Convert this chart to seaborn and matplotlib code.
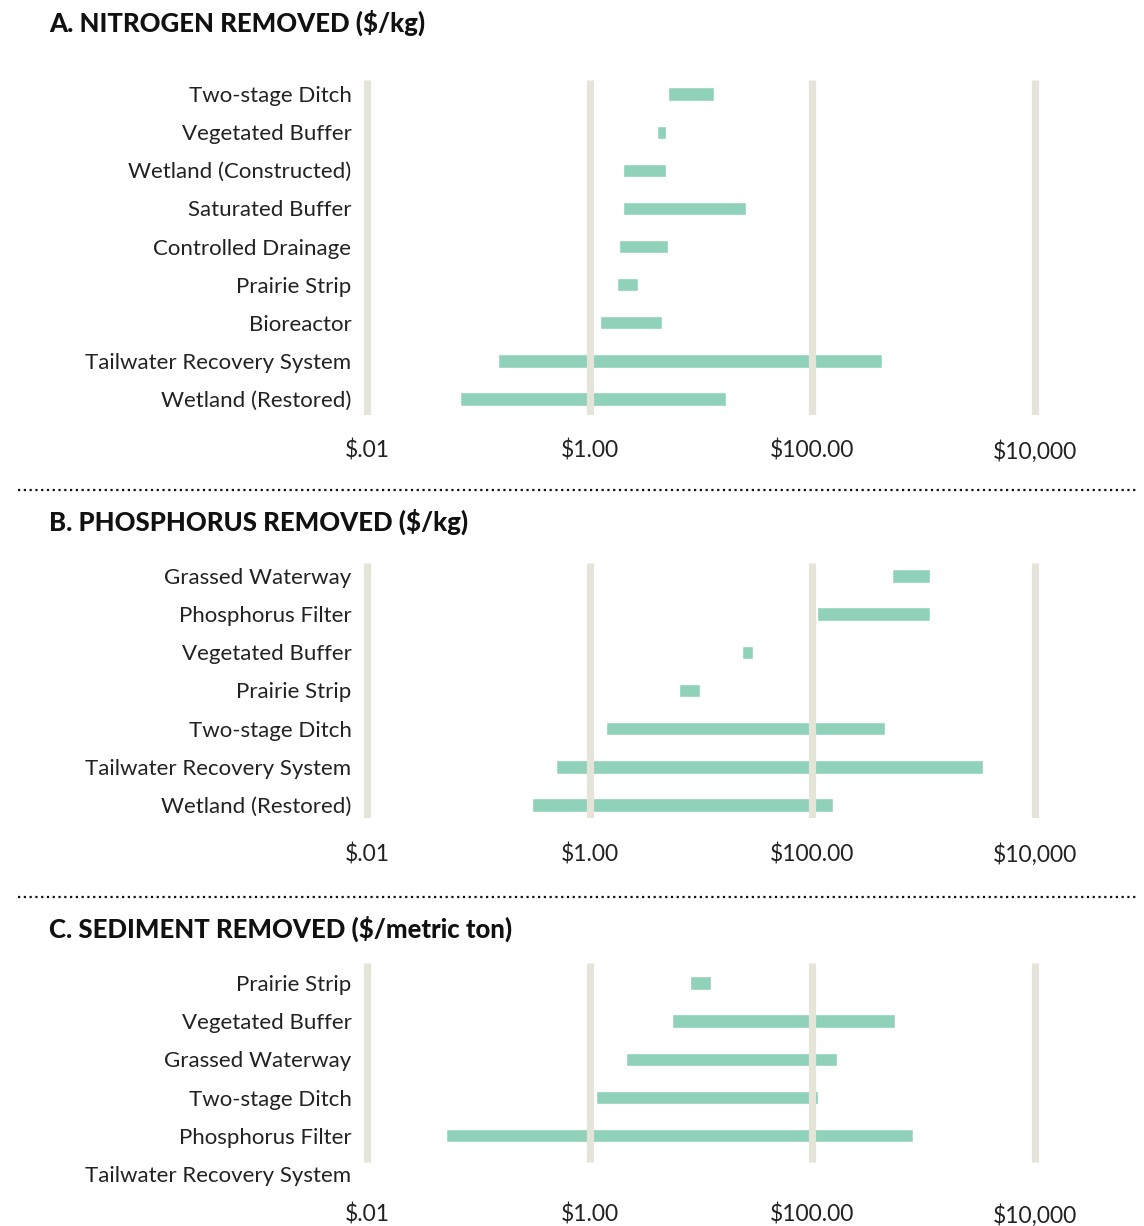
import numpy as np
import matplotlib
matplotlib.use("Agg")
import matplotlib.pyplot as plt
import seaborn as sns

# A. nitrogen ($/kg)
n_labels = ["Two-stage Ditch", "Vegetated Buffer", "Wetland (Constructed)", "Saturated Buffer",
            "Controlled Drainage", "Prairie Strip", "Bioreactor", "Tailwater Recovery System",
            "Wetland (Restored)"]
n_low = [5.1, 4.0, 2.0, 2.0, 1.83, 1.76, 1.23, 0.15, 0.068]
n_high = [13.2, 4.8, 4.8, 25.3, 5.1, 2.7, 4.5, 420, 16.7]

# B. phosphorus ($/kg)
p_labels = ["Grassed Waterway", "Phosphorus Filter", "Vegetated Buffer", "Prairie Strip",
            "Two-stage Ditch", "Tailwater Recovery System", "Wetland (Restored)"]
p_low = [520, 109, 23.3, 6.3, 1.4, 0.50, 0.305]
p_high = [1145, 1145, 29.2, 9.7, 450, 3380, 152]

# C. sediment ($/metric ton)
s_labels = ["Prairie Strip", "Vegetated Buffer", "Grassed Waterway", "Two-stage Ditch",
            "Phosphorus Filter", "Tailwater Recovery System"]
s_low = [7.9, 5.5, 2.1, 1.13, 0.051, np.nan]
s_high = [12.2, 550, 165, 113, 800, np.nan]

ticks = [0.01, 1, 100, 10000]
tick_labels = ["$.01", "$1.00", "$100.00", "$10,000"]

sns.set_theme(style="white")
plt.rcParams["font.family"] = ["Lato", "DejaVu Sans"]

BAR = "#8fd1b9"
GRID = "#e4e5d8"
W, H = 1144, 1226

fig = plt.figure(figsize=(W / 100, H / 100), dpi=100)

x0 = 362.5
x1 = 1039.5


def panel(top, bottom, labels, low, high, ylim, grid_span, pad, title, title_y):
    ax = fig.add_axes([x0 / W, 1 - bottom / H, (x1 - x0) / W, (bottom - top) / H])
    ax.set_xscale("log")
    ax.set_xlim(10 ** -2.04, 10 ** 4.04)
    ax.set_ylim(ylim[1], ylim[0])
    pos = np.arange(len(labels))
    lo = np.array(low, dtype=float)
    hi = np.array(high, dtype=float)
    ax.barh(pos, hi - lo, left=lo, height=0.35, color=BAR, zorder=1)
    ax.vlines(ticks, grid_span[0], grid_span[1], colors=GRID, linewidth=5.2, zorder=2)
    ax.set_yticks(pos)
    ax.set_yticklabels(labels, fontsize=16, color="#222222")
    ax.set_xticks(ticks)
    ax.set_xticklabels(tick_labels, fontsize=16.5, color="#222222")
    ax.minorticks_off()
    ax.tick_params(axis="y", length=0, pad=8)
    ax.tick_params(axis="x", length=0, pad=pad)
    sns.despine(ax=ax, left=True, bottom=True)
    fig.text(49 / W, 1 - title_y / H, title, fontsize=18.5, fontweight="black",
             color="#111111", va="center", ha="left")
    return ax


panel(80, 415, n_labels, n_low, n_high, (-0.37, 8.42), (-0.37, 8.42), 18,
      "A. NITROGEN REMOVED ($/kg)", 23)
panel(563, 818, p_labels, p_low, p_high, (-0.34, 6.34), (-0.34, 6.34), 18,
      "B. PHOSPHORUS REMOVED ($/kg)", 522)
panel(963, 1190, s_labels, s_low, s_high, (-0.52, 5.42), (-0.52, 4.69), 10,
      "C. SEDIMENT REMOVED ($/metric ton)", 929)

# dotted separators between panels
for y in (490, 897):
    fig.add_artist(plt.Line2D([18 / W, 1137 / W], [1 - y / H, 1 - y / H],
                              color="#111111", linestyle=(0, (1, 1.6)), linewidth=1.6))

fig.savefig("out.png", dpi=100)
